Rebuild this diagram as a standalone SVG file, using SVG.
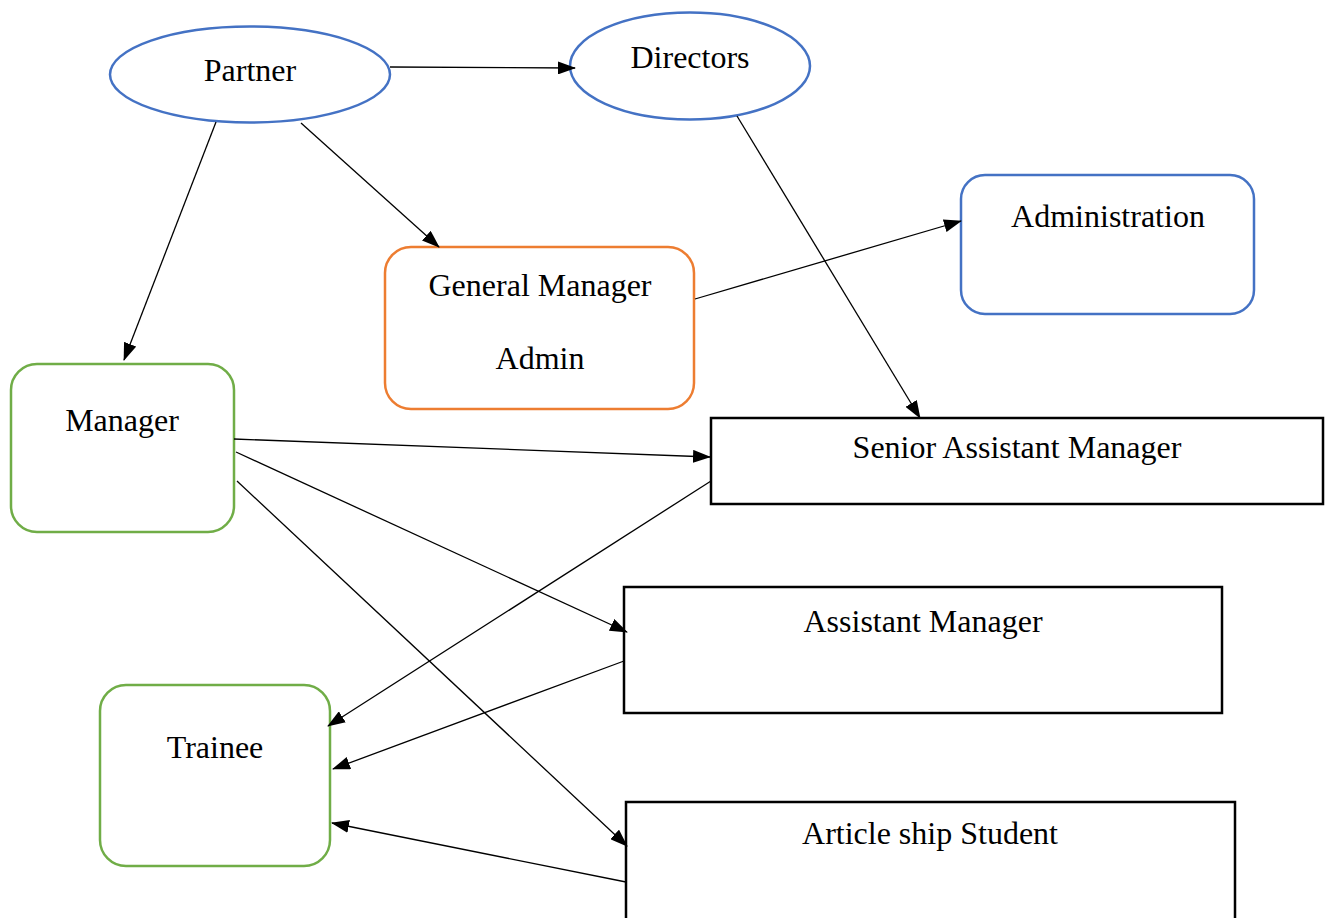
<svg xmlns="http://www.w3.org/2000/svg" width="1331" height="918" viewBox="0 0 1331 918">
<style>
text{font-family:"Liberation Serif","Times New Roman",serif;font-size:32px;fill:#000;text-anchor:middle}
.blue{fill:#fff;stroke:#4472C4;stroke-width:2.5}
.orange{fill:#fff;stroke:#ED7D31;stroke-width:2.5}
.green{fill:#fff;stroke:#70AD47;stroke-width:2.5}
.box{fill:#fff;stroke:#000;stroke-width:2.5}
.edge{stroke:#000;stroke-width:1.3;fill:none;marker-end:url(#arr)}
</style>
<defs>
<marker id="arr" markerUnits="userSpaceOnUse" markerWidth="18" markerHeight="13" refX="17" refY="6.5" orient="auto">
<path d="M0,0 L18,6.5 L0,13 Z" fill="#000"/>
</marker>
</defs>
<rect width="1331" height="918" fill="#fff"/>
<g id="partner"><ellipse class="blue" cx="250" cy="74.5" rx="140" ry="48"/><text x="250" y="81">Partner</text></g>
<g id="directors"><ellipse class="blue" cx="690" cy="66" rx="120" ry="53.5"/><text x="690" y="68">Directors</text></g>
<g id="general-manager"><rect class="orange" x="385" y="247" width="309" height="162" rx="26"/><text x="540" y="296">General Manager</text><text x="540" y="369">Admin</text></g>
<g id="administration"><rect class="blue" x="961" y="175" width="293" height="139" rx="24"/><text x="1108" y="227">Administration</text></g>
<g id="manager"><rect class="green" x="11" y="364" width="223" height="168" rx="26"/><text x="122" y="431">Manager</text></g>
<g id="trainee"><rect class="green" x="100" y="685" width="230" height="181" rx="26"/><text x="215" y="758">Trainee</text></g>
<g id="senior-assistant-manager"><rect class="box" x="711" y="418" width="612" height="86"/><text x="1017" y="458">Senior Assistant Manager</text></g>
<g id="assistant-manager"><rect class="box" x="624" y="587" width="598" height="126"/><text x="923" y="632">Assistant Manager</text></g>
<g id="article-ship-student"><rect class="box" x="626" y="802" width="609" height="130"/><text x="930" y="844">Article ship Student</text></g>
<g id="connectors">
<line class="edge" x1="390" y1="67" x2="575" y2="68"/>
<line class="edge" x1="216" y1="122" x2="124" y2="360"/>
<line class="edge" x1="301" y1="123" x2="439" y2="247"/>
<line class="edge" x1="737" y1="116" x2="920" y2="418"/>
<line class="edge" x1="695" y1="299" x2="961" y2="221"/>
<line class="edge" x1="234" y1="439" x2="710" y2="457"/>
<line class="edge" x1="236" y1="452" x2="627" y2="632"/>
<line class="edge" x1="237" y1="481" x2="627" y2="846"/>
<line class="edge" x1="711" y1="481" x2="328" y2="726"/>
<line class="edge" x1="624" y1="661" x2="333" y2="769"/>
<line class="edge" x1="626" y1="882" x2="332" y2="823"/>
</g>
</svg>
